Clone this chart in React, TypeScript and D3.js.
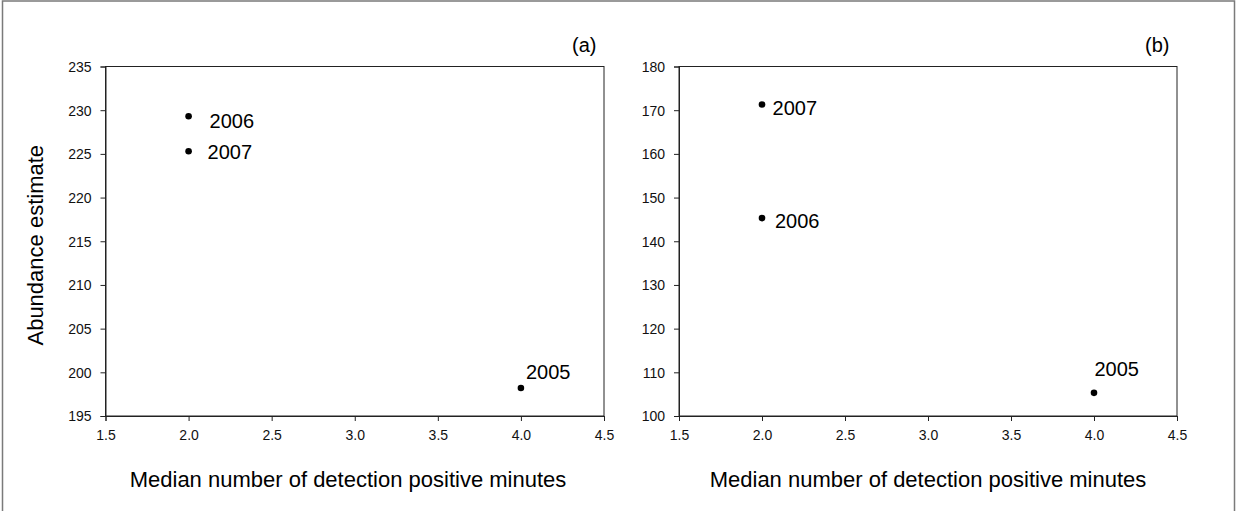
import React, { useEffect, useRef } from "react";
import * as d3 from "d3";

// ---- data ----
const years = ["2005", "2006", "2007"];
const medianMinutes = [4.0, 2.0, 2.0];
const abundanceA = [198.2, 229.3, 225.3];
const abundanceB = [105.3, 145.3, 171.3];
const xTicks = [1.5, 2.0, 2.5, 3.0, 3.5, 4.0, 4.5];
const yTicksA = [195, 200, 205, 210, 215, 220, 225, 230, 235];
const yTicksB = [100, 110, 120, 130, 140, 150, 160, 170, 180];
const panelLabels = ["(a)", "(b)"];
const xTitle = "Median number of detection positive minutes";
const yTitle = "Abundance estimate";

// label offsets (layout only): [dx, dy] per year for each panel
const labelOffsetsA = [[5, -9], [21, 11.6], [19, 7.6]];
const labelOffsetsB = [[0.5, -17], [13, 10], [10.6, 10.7]];

const FONT = "Arial, 'Liberation Sans', sans-serif";

export default function App() {
  const ref = useRef<SVGSVGElement>(null);

  useEffect(() => {
    const svg = d3.select(ref.current);
    svg.selectAll("*").remove();

    svg
      .append("rect")
      .attr("x", 2.5)
      .attr("y", 1)
      .attr("width", 1232)
      .attr("height", 520)
      .attr("fill", "none")
      .attr("stroke", "#7a7a7a")
      .attr("stroke-width", 1.5);

    const panels = [
      {
        left: 105.5, right: 604, yDomain: [195, 235], yTicks: yTicksA,
        values: abundanceA, offsets: labelOffsetsA, label: panelLabels[0], titleX: 348, showY: true,
      },
      {
        left: 679, right: 1177, yDomain: [100, 180], yTicks: yTicksB,
        values: abundanceB, offsets: labelOffsetsB, label: panelLabels[1], titleX: 928, showY: false,
      },
    ];
    const top = 66.5;
    const bottom = 416;

    panels.forEach((p) => {
      const x = d3.scaleLinear().domain([1.5, 4.5]).range([p.left, p.right]);
      const y = d3.scaleLinear().domain(p.yDomain).range([bottom, top]);
      const g = svg.append("g");

      // box
      g.append("rect")
        .attr("x", p.left)
        .attr("y", top)
        .attr("width", p.right - p.left)
        .attr("height", bottom - top)
        .attr("fill", "none")
        .attr("stroke", "#222")
        .attr("stroke-width", 1);

      const xAxis = g
        .append("g")
        .attr("transform", `translate(0,${bottom})`)
        .call(
          d3.axisBottom(x).tickValues(xTicks).tickFormat(d3.format(".1f")).tickSize(5).tickPadding(9)
        );
      const yAxis = g
        .append("g")
        .attr("transform", `translate(${p.left},0)`)
        .call(d3.axisLeft(y).tickValues(p.yTicks).tickFormat(d3.format("d")).tickSize(5).tickPadding(9));

      [xAxis, yAxis].forEach((ax) => {
        ax.select(".domain").attr("stroke", "#222");
        ax.selectAll(".tick line").attr("stroke", "#222");
        ax.selectAll(".tick text")
          .attr("fill", "#111")
          .style("font-family", FONT)
          .style("font-size", "14px");
      });
      yAxis.selectAll(".tick text").attr("dy", "0.35em");

      // points
      g.selectAll("circle.pt")
        .data(p.values)
        .enter()
        .append("circle")
        .attr("cx", (_d, i) => x(medianMinutes[i]))
        .attr("cy", (d) => y(d))
        .attr("r", 3.3)
        .attr("fill", "#000");

      g.selectAll("text.lbl")
        .data(p.values)
        .enter()
        .append("text")
        .attr("x", (_d, i) => x(medianMinutes[i]) + p.offsets[i][0])
        .attr("y", (d, i) => y(d) + p.offsets[i][1])
        .attr("fill", "#000")
        .style("font-family", FONT)
        .style("font-size", "20px")
        .text((_d, i) => years[i]);

      // panel label
      g.append("text")
        .attr("x", p.right - 7.5)
        .attr("y", 51.7)
        .attr("text-anchor", "end")
        .attr("fill", "#000")
        .style("font-family", FONT)
        .style("font-size", "20px")
        .text(p.label);

      // x title
      g.append("text")
        .attr("x", p.titleX)
        .attr("y", 487)
        .attr("text-anchor", "middle")
        .attr("fill", "#000")
        .style("font-family", FONT)
        .style("font-size", "22px")
        .text(xTitle);

      if (p.showY) {
        g.append("text")
          .attr("transform", `translate(43,${(top + bottom) / 2 + 4}) rotate(-90)`)
          .attr("text-anchor", "middle")
          .attr("fill", "#000")
          .style("font-family", FONT)
          .style("font-size", "22px")
          .text(yTitle);
      }
    });
  }, []);

  return (
    <svg
      ref={ref}
      width={1237}
      height={511}
      style={{ position: "absolute", left: 0, top: 0, background: "#fff" }}
    />
  );
}
